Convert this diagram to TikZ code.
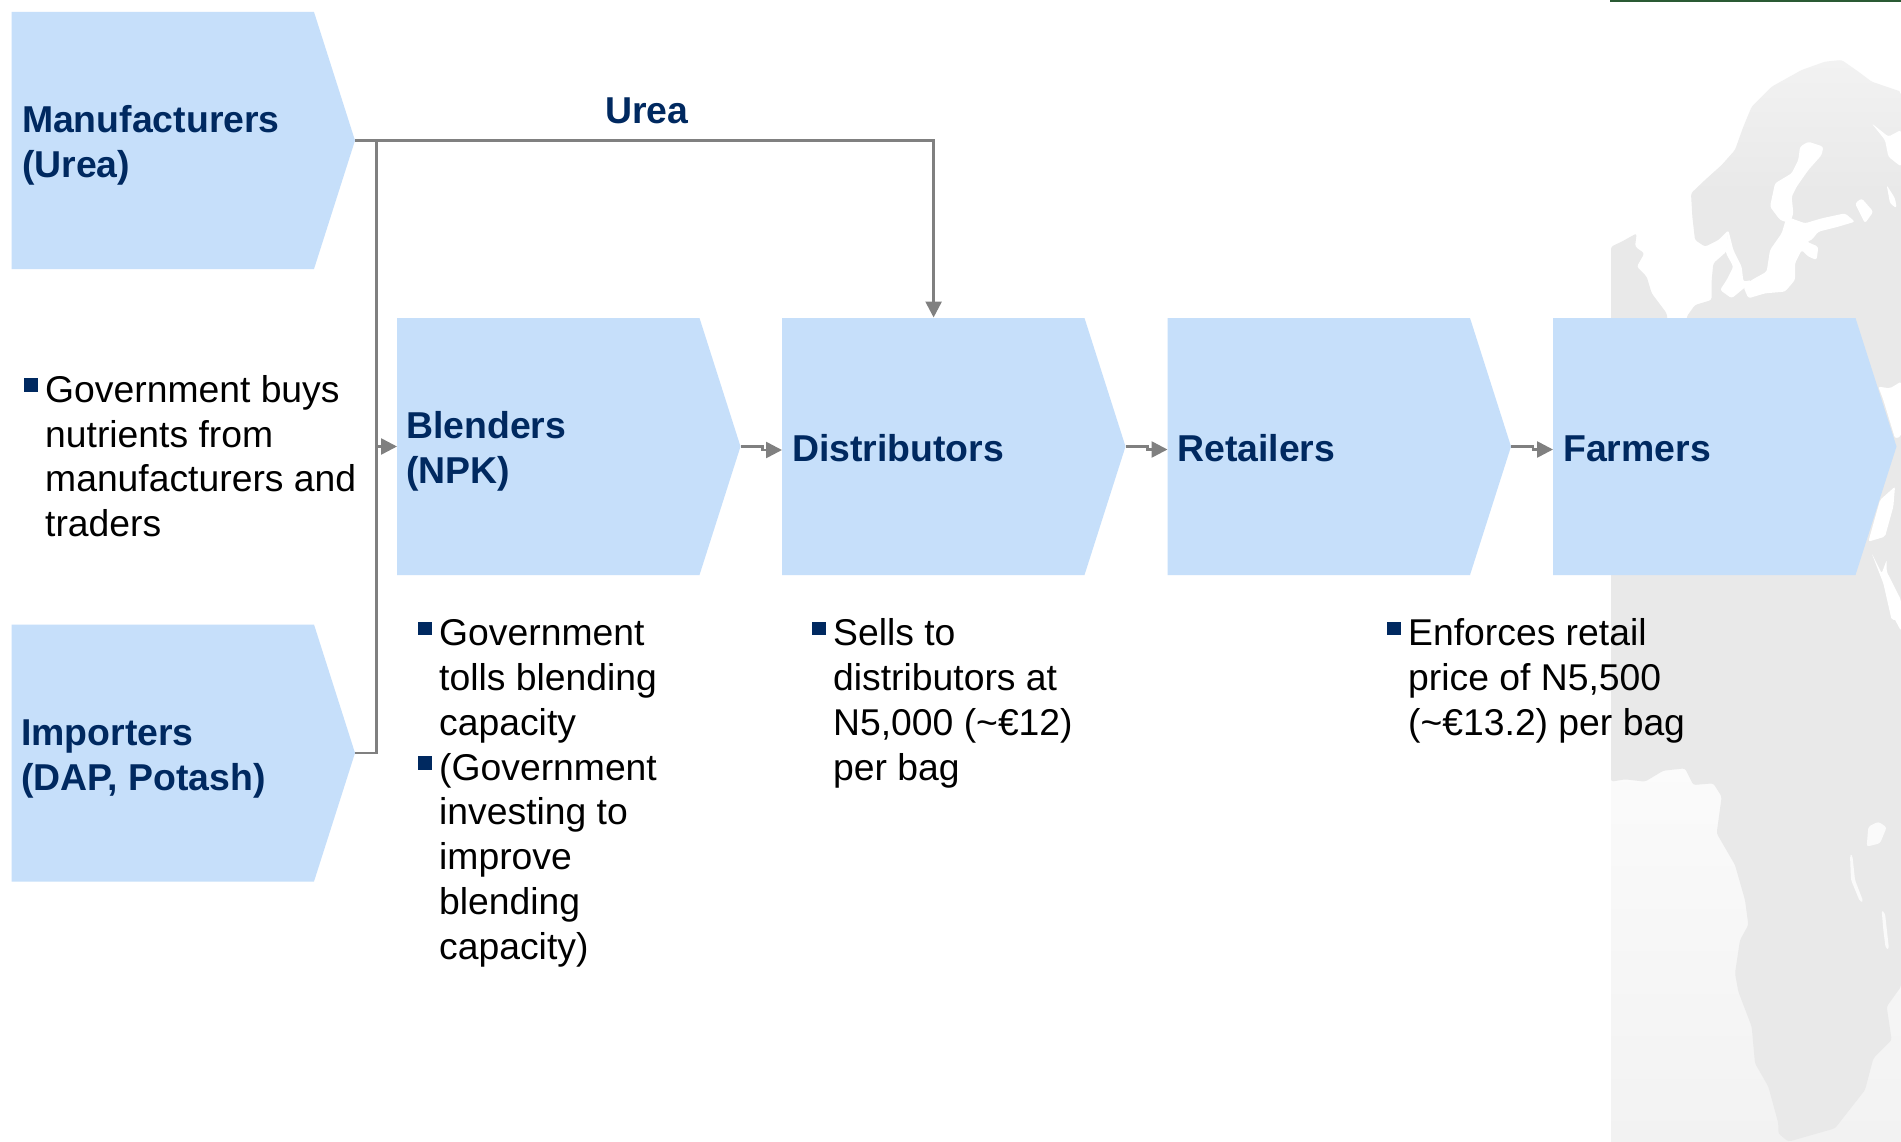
\documentclass[tikz,border=0pt]{standalone}
\usepackage{fontspec}
\setmainfont{Liberation Sans}
\usetikzlibrary{arrows.meta,shapes.symbols}
\definecolor{boxblue}{HTML}{C6DFFA}
\definecolor{navy}{HTML}{002960}
\definecolor{conn}{HTML}{808080}
\definecolor{land}{HTML}{E9E9E9}
\definecolor{landtop}{HTML}{F2F2F2}
\definecolor{oceantop}{HTML}{FBFBFB}
\definecolor{oceanbot}{HTML}{F2F2F2}
\definecolor{ruleg}{HTML}{2A5A34}
\newcommand\firstline{\rule{0pt}{30pt}}
\tikzset{
  chevron/.style={signal,signal to=east,signal from=nowhere,signal pointer angle=144.6,fill=boxblue,draw=none,inner sep=0pt,outer sep=0pt,minimum width=#1,minimum height=257pt},
  boxlabel/.style={font=\fontsize{37.4}{44.8}\selectfont\bfseries,text=navy,align=left,anchor=north west,inner sep=0pt},
  bodytext/.style={font=\fontsize{37.3}{44.8}\selectfont,text=black,align=left,anchor=north west,inner sep=0pt},
  bulletmark/.style={fill=navy,draw=none,minimum size=13.8pt,inner sep=0pt},
  connector/.style={draw=conn,line width=2.6pt},
  arrowed/.style={connector,-{Triangle[length=16pt,width=16pt]}},
  mapeu/.style={shift={(1605,50)},x={(0.33333pt,0pt)},y={(0pt,-0.33333pt)},rounded corners=2.5pt},
  mapnear/.style={shift={(1840,320)},x={(0.33333pt,0pt)},y={(0pt,-0.33333pt)},rounded corners=2pt},
  mapaf/.style={shift={(1605,740)},x={(0.33333pt,0pt)},y={(0pt,-0.33333pt)},rounded corners=2.5pt},
}
\begin{document}
\begin{tikzpicture}[x=1pt,y=-1pt]
\useasboundingbox (0,0) rectangle (1901,1142);
\fill[white] (0,0) rectangle (1901,1142);
% map backdrop
\shade[top color=oceantop,bottom color=oceanbot] (1611,760) rectangle (1901,1142);
\begin{scope}[mapeu]
\shade[top color=landtop,bottom color=land,middle color=land] (18,590) -- (50,575) -- (95,550) -- (90,590) -- (118,610) -- (95,650) -- (125,680) -- (140,730) -- (185,790) -- (190,830) -- (245,830) -- (245,800) -- (270,765) -- (320,750) -- (320,690) -- (325,640) -- (365,605) -- (370,540) -- (340,570) -- (300,590) -- (270,570) -- (262,500) -- (258,430) -- (300,390) -- (350,345) -- (390,300) -- (415,230) -- (440,170) -- (500,110) -- (590,60) -- (660,35) -- (710,30) -- (760,65) -- (800,95) -- (888,125) -- (888,830) -- (18,830) -- cycle;
\fill[white] (370,540) -- (385,600) -- (410,650) -- (415,695) -- (440,690) -- (420,712) -- (380,745) -- (345,720) -- (365,690) -- (385,650) -- (362,608) -- cycle;
\fill[white] (585,290) -- (610,275) -- (655,290) -- (650,315) -- (610,360) -- (575,410) -- (560,440) -- (565,490) -- (555,520) -- (525,510) -- (495,470) -- (510,400) -- (560,370) -- (580,330) -- cycle;
\fill[white] (545,500) -- (600,520) -- (650,505) -- (720,490) -- (750,515) -- (700,530) -- (640,545) -- (620,570) -- (605,575) -- (640,590) -- (635,630) -- (610,620) -- (590,600) -- (570,640) -- (570,690) -- (540,725) -- (480,730) -- (430,745) -- (415,710) -- (440,690) -- (485,665) -- (495,600) -- (530,550) -- cycle;
\fill[white] (800,220) -- (850,260) -- (888,240) -- (888,350) -- (850,320) -- (840,270) -- cycle;
\fill[white] (750,460) -- (770,445) -- (805,485) -- (780,520) -- cycle;
\fill[white] (845,405) -- (870,445) -- (875,475) -- (855,460) -- cycle;
\end{scope}
\begin{scope}[mapaf]
\fill[land] (18,-1260) -- (888,-1260) -- (888,740) -- (845,800) -- (860,900) -- (805,955) -- (780,1050) -- (690,1165) -- (550,1205) -- (520,1180) -- (520,1150) -- (490,1040) -- (450,970) -- (440,860) -- (400,755) -- (390,700) -- (405,600) -- (430,555) -- (420,480) -- (390,375) -- (335,280) -- (350,170) -- (325,130) -- (265,135) -- (240,85) -- (175,92) -- (120,125) -- (60,118) -- (18,125) -- cycle;
\fill[white] (851,-420) -- (888,-420) -- (888,-327) -- (865,-370) -- cycle;
\fill[white!98!black] (790,260) -- (820,245) -- (845,262) -- (825,310) -- (785,320) -- cycle;
\fill[white!98!black] (735,345) -- (742,345) -- (750,420) -- (775,485) -- (765,485) -- (738,420) -- cycle;
\fill[white!98!black] (830,510) -- (840,520) -- (852,628) -- (842,625) -- (835,570) -- cycle;
\end{scope}
\begin{scope}[mapnear]
\fill[white] (115,200) -- (150,205) -- (183,185) -- (183,350) -- (165,355) -- (130,240) -- cycle;
\fill[white] (165,500) -- (160,560) -- (135,650) -- (85,665) -- (120,540) -- cycle;
\fill[white] (95,700) -- (125,760) -- (140,720) -- (140,755) -- (183,840) -- (183,900) -- (155,900) -- (130,790) -- cycle;
\end{scope}
\fill[ruleg] (1610,0) rectangle (1901,2);
% chevrons
\node[chevron=343.5pt,anchor=west] (man) at (11.5,140.5) {};
\node[chevron=343.5pt,anchor=west] (imp) at (11.5,753) {};
\node[chevron=343.5pt,anchor=west] (ble) at (397,446.5) {};
\node[chevron=343.5pt,anchor=west] (dis) at (782,446.5) {};
\node[chevron=343.5pt,anchor=west] (ret) at (1167.5,446.5) {};
\node[chevron=343.5pt,anchor=west] (far) at (1553,446.5) {};
% chevron labels
\node[boxlabel] (manl) at (21.8,102.3) {\firstline Manufacturers\\(Urea)};
\node[boxlabel] (impl) at (21,715) {\firstline Importers\\(DAP, Potash)};
\node[boxlabel] (blel) at (406,408) {\firstline Blenders\\(NPK)};
\node[boxlabel] (disl) at (792,431) {\firstline Distributors};
\node[boxlabel] (retl) at (1177,431) {\firstline Retailers};
\node[boxlabel] (farl) at (1563,431) {\firstline Farmers};
\node[boxlabel] (ureal) at (605,93.3) {\firstline Urea};
% connectors
\coordinate (bus) at (376.2,140.5);
\coordinate (ureaend) at (933.6,317.5);
\coordinate (disin) at (782,450);
\coordinate (retin) at (1167.5,449.5);
\coordinate (farin) at (1553,449.5);
\draw[arrowed] (man.east) -| (ureaend);
\draw[connector] (imp.east) -| (bus);
\draw[arrowed] (bus |- ble.west) -- (ble.west);
\draw[arrowed] (ble.east) -- ++(22,0) |- (disin);
\draw[arrowed] (dis.east) -- ++(22,0) |- (retin);
\draw[arrowed] (ret.east) -- ++(22,0) |- (farin);
% bullets and body text
\node[bulletmark] (b1) at (31.3,385) {};
\node[bodytext] (t1) at (45,372) {\firstline Government buys\\nutrients from\\manufacturers and\\traders};
\node[bulletmark] (b2) at (425,628.5) {};
\node[bulletmark] (b3) at (425,763) {};
\node[bodytext] (t2) at (439,615.5) {\firstline Government\\tolls blending\\capacity\\(Government\\investing to\\improve\\blending\\capacity)};
\node[bulletmark] (b4) at (819,628.5) {};
\node[bodytext] (t3) at (833,615.5) {\firstline Sells to\\distributors at\\N5,000 (\char"007E€12)\\per bag};
\node[bulletmark] (b5) at (1394,628.5) {};
\node[bodytext] (t4) at (1408,615.5) {\firstline Enforces retail\\price of N5,500\\(\char"007E€13.2) per bag};
\end{tikzpicture}
\end{document}
